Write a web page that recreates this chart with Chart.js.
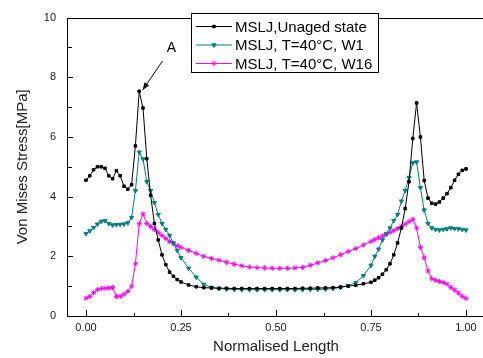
<!DOCTYPE html>
<html>
<head>
<meta charset="utf-8">
<script src="https://cdn.jsdelivr.net/npm/chart.js@4.4.1/dist/chart.umd.min.js"></script>
<style>
  html, body { margin: 0; padding: 0; background: #fff; overflow: hidden; }
  #wrap { position: relative; width: 490px; height: 358px; }
</style>
</head>
<body>
<div id="wrap"><canvas id="stressChart"></canvas></div>
<script>
/* normalised length positions (shared by all three curves) */
const xPos = [
  0.00, 0.01, 0.02, 0.03, 0.04, 0.05, 0.06, 0.07, 0.08, 0.09,
  0.10, 0.11, 0.12, 0.13, 0.14, 0.15, 0.16, 0.17, 0.18, 0.19,
  0.20, 0.21, 0.22, 0.23, 0.24, 0.25, 0.27, 0.29, 0.31, 0.33,
  0.35, 0.37, 0.39, 0.41, 0.43, 0.45, 0.47, 0.49, 0.51, 0.53,
  0.55, 0.57, 0.59, 0.61, 0.63, 0.65, 0.67, 0.69, 0.71, 0.73,
  0.75, 0.76, 0.77, 0.78, 0.79, 0.80, 0.81, 0.82, 0.83, 0.84,
  0.85, 0.86, 0.87, 0.88, 0.89, 0.90, 0.91, 0.92, 0.93, 0.94,
  0.95, 0.96, 0.97, 0.98, 0.99, 1.00
];

// MSLJ, Unaged state
const unaged = [
  4.55, 4.70, 4.90, 5.00, 5.00, 4.95, 4.70, 4.60, 4.87, 4.70,
  4.35, 4.25, 4.40, 5.70, 7.53, 6.97, 5.27, 4.05, 3.10, 2.55,
  2.05, 1.72, 1.47, 1.33, 1.22, 1.14, 1.04, 0.98, 0.95, 0.94,
  0.93, 0.93, 0.92, 0.92, 0.92, 0.92, 0.92, 0.92, 0.92, 0.92,
  0.92, 0.93, 0.93, 0.94, 0.94, 0.95, 0.97, 1.00, 1.03, 1.08,
  1.13, 1.20, 1.28, 1.40, 1.55, 1.75, 2.05, 2.45, 2.95, 3.60,
  4.50, 5.95, 7.14, 6.00, 4.54, 3.95, 3.78, 3.75, 3.82, 3.95,
  4.10, 4.30, 4.55, 4.75, 4.88, 4.93
];

// MSLJ, T=40°C, W1
const w1 = [
  2.76, 2.85, 2.96, 3.08, 3.17, 3.19, 3.10, 3.05, 3.06, 3.07,
  3.08, 3.12, 3.30, 4.20, 5.49, 5.26, 4.50, 4.20, 3.80, 3.40,
  3.10, 2.90, 2.70, 2.45, 2.20, 1.95, 1.60, 1.30, 1.06, 0.96,
  0.92, 0.90, 0.89, 0.88, 0.88, 0.88, 0.88, 0.88, 0.88, 0.88,
  0.88, 0.88, 0.89, 0.89, 0.90, 0.92, 0.96, 1.02, 1.12, 1.35,
  1.70, 2.00, 2.24, 2.55, 2.75, 2.95, 3.20, 3.40, 3.85, 4.20,
  4.64, 5.13, 5.16, 4.30, 3.55, 3.10, 2.95, 2.90, 2.88, 2.90,
  2.92, 2.95, 2.93, 2.92, 2.90, 2.88
];

// MSLJ, T=40°C, W16
const w16 = [
  0.60, 0.65, 0.78, 0.88, 0.92, 0.93, 0.94, 0.95, 0.65, 0.66,
  0.73, 0.82, 1.00, 1.75, 3.09, 3.42, 3.10, 3.00, 2.90, 2.80,
  2.70, 2.60, 2.50, 2.42, 2.35, 2.30, 2.20, 2.10, 2.00, 1.93,
  1.87, 1.80, 1.74, 1.68, 1.64, 1.62, 1.61, 1.60, 1.60, 1.60,
  1.61, 1.63, 1.70, 1.78, 1.86, 1.95, 2.05, 2.16, 2.26, 2.38,
  2.50, 2.56, 2.62, 2.68, 2.74, 2.80, 2.86, 2.93, 3.00, 3.08,
  3.16, 3.24, 2.95, 2.30, 1.95, 1.51, 1.25, 1.20, 1.16, 1.12,
  1.07, 0.96, 0.87, 0.77, 0.66, 0.59
];

const xTicks = [0, 0.25, 0.5, 0.75, 1.0];
const yTicks = [0, 2, 4, 6, 8, 10];

const seriesNames = ['MSLJ,Unaged state', 'MSLJ, T=40°C, W1', 'MSLJ, T=40°C, W16'];
const seriesColors = ['#000000', '#008080', '#ff00ff'];
const seriesMarkers = ['rect', 'triangle', 'star'];
const seriesRot = [0, 180, 0];
const seriesRadius = [1.8, 2.4, 2.6];

const FONT = '"Liberation Sans", Arial, sans-serif';

function toPoints(ys) {
  return ys.map(function (y, i) { return { x: xPos[i], y: y }; });
}

// frame, inward ticks, legend box and the "A" arrow
const decorPlugin = {
  id: 'decor',
  afterDraw: function (chart) {
    const ctx = chart.ctx;
    const a = chart.chartArea;
    const xs = chart.scales.x, ys = chart.scales.y;
    ctx.save();
    ctx.strokeStyle = '#000';
    ctx.lineWidth = 1;
    ctx.strokeRect(Math.round(a.left) + 0.5, Math.round(a.top) + 0.5,
      Math.round(a.right - a.left), Math.round(a.bottom - a.top));

    // x ticks (major + minor), pointing into the plot
    ctx.beginPath();
    for (let v = 0; v <= 1.0001; v += 0.125) {
      const px = Math.round(xs.getPixelForValue(v)) + 0.5;
      const major = Math.abs(v / 0.25 - Math.round(v / 0.25)) < 1e-6;
      ctx.moveTo(px, a.bottom);
      ctx.lineTo(px, a.bottom - (major ? 6 : 3));
    }
    // y ticks
    for (let v = 1; v <= 9; v += 1) {
      const py = Math.round(ys.getPixelForValue(v)) + 0.5;
      const major = v % 2 === 0;
      ctx.moveTo(a.left, py);
      ctx.lineTo(a.left + (major ? 6 : 5), py);
    }
    ctx.stroke();

    // annotation arrow
    const tx = xs.getPixelForValue(0.149), ty = ys.getPixelForValue(7.57);
    const sx = xs.getPixelForValue(0.2016), sy = ys.getPixelForValue(8.55);
    ctx.beginPath();
    ctx.moveTo(sx, sy);
    ctx.lineTo(tx, ty);
    ctx.stroke();
    const ang = Math.atan2(ty - sy, tx - sx);
    ctx.beginPath();
    ctx.moveTo(tx, ty);
    ctx.lineTo(tx - 8 * Math.cos(ang - 0.35), ty - 8 * Math.sin(ang - 0.35));
    ctx.lineTo(tx - 8 * Math.cos(ang + 0.35), ty - 8 * Math.sin(ang + 0.35));
    ctx.closePath();
    ctx.fillStyle = '#000';
    ctx.fill();
    ctx.font = '14px ' + FONT;
    ctx.textAlign = 'center';
    ctx.textBaseline = 'middle';
    ctx.fillText('A', xs.getPixelForValue(0.225), ys.getPixelForValue(8.98));

    // legend
    const lx = 191, ly = 13, lw = 187, lh = 59;
    ctx.fillStyle = '#fff';
    ctx.fillRect(lx, ly, lw, lh);
    ctx.strokeRect(lx + 0.5, ly + 0.5, lw, lh);
    ctx.textAlign = 'left';
    ctx.font = '15px ' + FONT;
    for (let i = 0; i < seriesNames.length; i++) {
      const ry = ly + 13.5 + i * 18.5;
      ctx.strokeStyle = seriesColors[i];
      ctx.fillStyle = seriesColors[i];
      ctx.beginPath();
      ctx.moveTo(lx + 5, ry);
      ctx.lineTo(lx + 41, ry);
      ctx.stroke();
      Chart.helpers.drawPoint(ctx, {
        pointStyle: seriesMarkers[i], rotation: seriesRot[i],
        radius: seriesRadius[i], borderWidth: 1
      }, lx + 23, ry);
      ctx.fillStyle = '#000';
      ctx.fillText(seriesNames[i], lx + 44, ry + 1);
    }
    ctx.restore();
  }
};

const ctx = document.getElementById('stressChart').getContext('2d');
const datasets = [unaged, w1, w16].map(function (ys, i) {
  return {
    label: seriesNames[i],
    data: toPoints(ys),
    borderColor: seriesColors[i],
    backgroundColor: seriesColors[i],
    borderWidth: 1,
    pointStyle: seriesMarkers[i],
    rotation: seriesRot[i],
    pointRadius: seriesRadius[i],
    pointBorderWidth: 1,
    tension: 0
  };
});

new Chart(ctx, {
  type: 'line',
  data: { datasets: datasets },
  options: {
    responsive: true,
    maintainAspectRatio: false,
    animation: false,
    layout: { padding: { top: 12, right: 3, left: 0, bottom: 0 } },
    plugins: { legend: { display: false }, tooltip: { enabled: false } },
    scales: {
      x: {
        type: 'linear',
        min: -0.05,
        max: 1.05,
        grid: { display: false, drawTicks: false },
        border: { display: false },
        afterBuildTicks: function (s) { s.ticks = xTicks.map(function (v) { return { value: v }; }); },
        afterFit: function (s) { s.height = 42; },
        ticks: {
          padding: 5,
          color: '#222',
          font: { family: FONT, size: 11 },
          maxRotation: 0,
          callback: function (v) { return Number(v).toFixed(2); }
        },
        title: {
          display: true,
          text: 'Normalised Length',
          color: '#222',
          font: { family: FONT, size: 15 },
          padding: { top: 0, bottom: 2 }
        }
      },
      y: {
        min: 0,
        max: 10,
        grid: { display: false, drawTicks: false },
        border: { display: false },
        afterBuildTicks: function (s) { s.ticks = yTicks.map(function (v) { return { value: v }; }); },
        afterFit: function (s) { s.width = 67; },
        ticks: {
          padding: 11,
          color: '#222',
          font: { family: FONT, size: 11 }
        },
        title: {
          display: true,
          text: 'Von Mises Stress[MPa]',
          color: '#222',
          font: { family: FONT, size: 15 },
          padding: { top: 14, bottom: 0 }
        }
      }
    }
  },
  plugins: [decorPlugin]
});
</script>
</body>
</html>
